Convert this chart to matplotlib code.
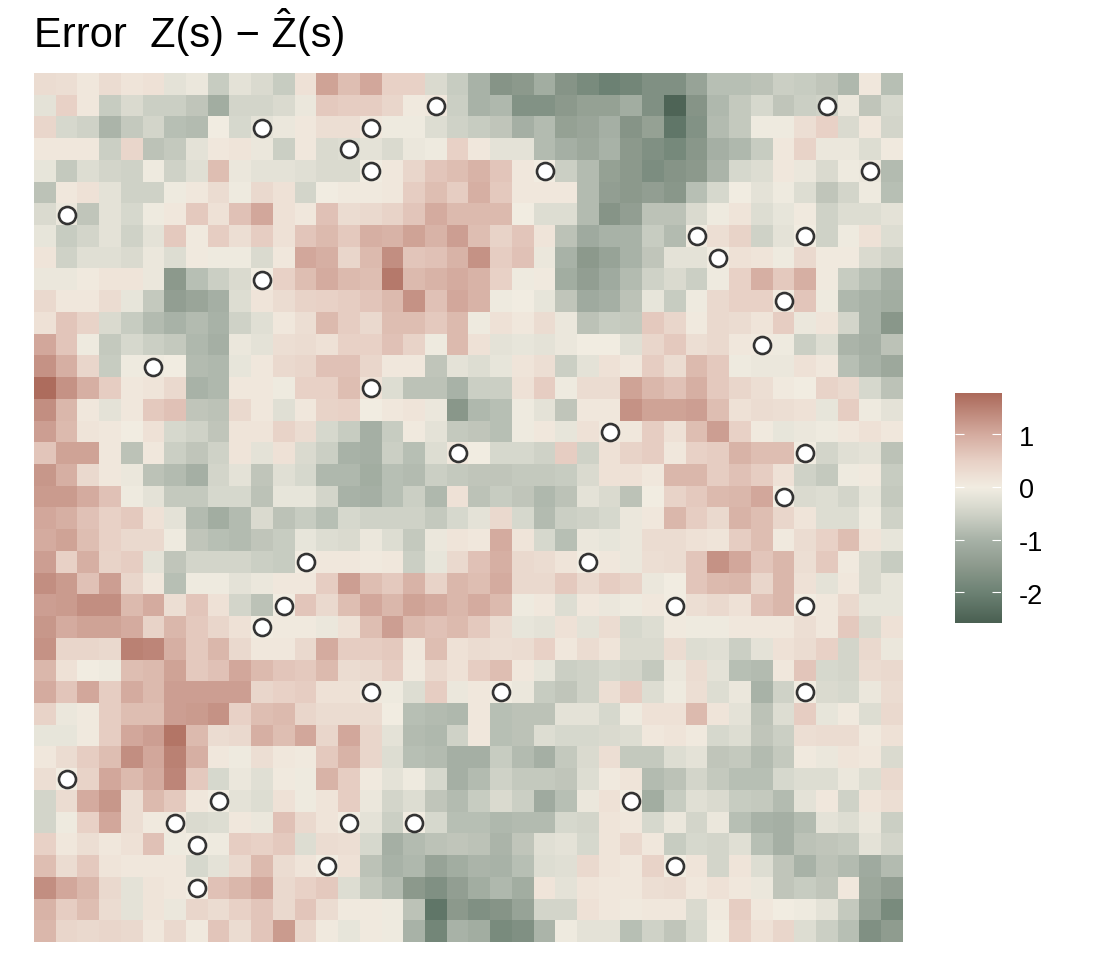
# coding=UTF-8
import matplotlib
matplotlib.use("Agg")
import matplotlib.pyplot as plt
import numpy as np
from matplotlib.colors import LinearSegmentedColormap, Normalize

plt.rcParams['font.family'] = ['Liberation Sans', 'DejaVu Sans']

# error on the 40 x 40 grid, first row is the top of the map
err_values = [
 [.3,.25,.1,.3,.15,.2,-.2,-.1,-.6,-.2,-.35,-.6,.2,1.1,.75,1.05,.5,.5,-.35,-.6, -1.0,-1.6,-1.5,-1.1,-1.6,-1.8,-2.0,-1.9,-1.7,-1.7,-1.3,-.8,-.8,-.75,-.55,-.6,-.7,-.9,.1,-.8],
 [-.2,.5,.1,-.6,-.35,-.55,-.55,-.7,-1.1,-.45,-.45,-.35,-.1,.6,.55,.55,.4,.05,.1,-.55, -1.0,-.9,-1.65,-1.65,-1.5,-1.35,-1.35,-1.1,-1.7,-2.5,-1.6,-.9,-.65,-.4,-.7,-.55,-.5,-.1,-.7,-.4],
 [.4,-.4,-.5,-.95,-.65,-.45,-.8,-.85,0,-.4,-.2,-.1,.1,.25,.25,.1,-.05,-.05,-.3,-.5, -.6,-.7,-1.05,-.85,-1.35,-1.25,-1.05,-1.6,-1.35,-2.2,-1.65,-.85,-.65,-.05,-.05,.25,.5,-.35,.1,-.45],
 [.1,.1,.1,-.55,.4,-.75,-.65,-.2,.1,.15,-.1,-.55,.1,-.35,-.3,-.2,-.35,-.1,-.05,.5, .1,-.2,-.2,-.85,-1.05,-1.2,-1.0,-1.5,-1.7,-1.85,-1.55,-1.05,-.9,-.6,.1,.45,-.1,-.1,-.3,.05],
 [-.15,-.65,-.3,-.45,-.5,-.05,-.5,-.25,.75,-.1,-.2,-.2,-.25,-.35,-.35,0,.1,.4,.65,.75, .9,.65,.1,0,-.55,-.85,-1.35,-1.5,-1.75,-1.6,-1.5,-.95,-.4,-.3,.1,-.1,-.35,-.05,-.1,-.85],
 [-.75,.1,.2,-.2,-.5,-.5,-.05,.1,.3,-.05,.35,.2,-.45,0,.05,.05,.1,.55,.75,.55, .95,.6,.1,.1,.1,-.85,-1.4,-1.5,-1.4,-1.55,-.8,-.4,0,-.2,-.05,-.3,-.7,-.45,-.05,-.8],
 [-.35,-.1,-.7,-.2,-.4,-.05,.1,.6,.2,.7,1.05,.2,.1,.7,.3,.35,.45,.65,1.0,.8, .8,.8,0,-.3,-.3,-.85,-1.6,-1.4,-.75,-.75,-.35,-.05,.15,-.3,-.15,.05,-.5,-.3,-.3,-.2],
 [-.15,-.6,-.45,-.2,-.5,-.2,.6,.05,.55,.25,.55,.2,.65,.8,.6,.95,.9,1.1,.9,1.15, .75,.45,.65,.15,-.75,-1.15,-1.0,-1.0,-.6,-.85,0,.25,.45,-.5,-.2,0,-.5,-.05,.2,-.3],
 [.15,-.5,-.25,-.25,-.35,-.1,-.3,.05,-.05,-.05,-.35,.1,1.05,.95,.4,.8,1.35,.65,.7,.9, 1.3,.55,.7,-.1,-1.0,-1.5,-1.3,-1.0,-.7,-.2,-.2,0,.2,.15,-.05,.35,.05,.05,-.35,-.5],
 [-.1,-.1,.05,.15,.15,-.1,-1.5,-.8,-.55,-.35,0,.5,.75,1.0,.8,.75,1.6,.8,.9,1.0, .9,.5,-.05,.05,-1.1,-1.4,-1.15,-.85,-.5,-.35,-.55,-.05,.5,.95,.6,.95,.05,-.6,-.8,-1.05],
 [.35,.1,.1,.3,-.15,-.65,-1.4,-1.25,-1.05,-.3,.15,.3,.45,.5,.55,.65,.8,1.3,.7,1.05, .9,-.05,0,-.15,-.7,-1.15,-1.05,-.75,-.15,-.6,-.05,.35,.5,.5,.05,.65,-.05,-.9,-1.0,-1.1],
 [.2,.65,.45,-.35,-.6,-.85,-1.0,-.85,-1.0,-.5,-.25,.1,.25,.8,.55,.35,.75,.75,.6,.8, -.05,.2,.1,.3,-.1,-.75,-.6,-.65,.6,.4,.05,.35,.3,.15,.55,-.1,.15,-.45,-1.0,-1.55],
 [1.05,.65,-.05,-.65,-.4,-.55,-.65,-.9,-1.05,-.1,-.2,.25,.3,.2,.5,.5,.7,.45,-.05,.8, .2,-.2,-.15,-.2,-.1,0,0,-.25,.4,.6,.25,.35,.1,.05,-.05,-.55,-.3,-.95,-1.05,-.75],
 [1.3,.95,.4,-.6,-.05,-.05,0,-.85,-.9,-.15,.1,.35,.4,.7,.7,.4,.1,.1,-.7,-.2, -.3,-.15,.15,.25,-.55,-.2,.2,.1,.55,.3,.8,.6,-.05,-.1,-.1,.2,.1,-.8,-1.0,-1.2],
 [1.75,1.3,.95,.55,.1,.15,.35,-1.0,-.9,.1,.1,-.05,.5,.5,.75,.2,-.3,-.75,-.75,-1.0, -.55,-.55,.2,.55,-.05,.3,.3,1.1,.85,.7,.95,.6,.4,.25,.05,0,.45,.35,-.4,-.75],
 [1.35,.85,.1,-.2,.1,.6,.7,-.7,-.75,.35,.1,-.25,.1,.45,.5,0,.1,.15,-.1,-1.55, -.9,-.8,-.05,-.2,-.7,.1,.1,1.3,1.1,1.1,1.15,.75,.2,.3,.25,.2,-.15,.55,-.05,-.2],
 [1.15,.8,.15,.1,0,.2,-.4,-.5,-.7,.15,.15,.45,.3,-.4,-.6,-1.05,-.6,.05,-.2,-.65, -.7,-.8,-.05,.1,-.15,.2,.05,.1,.55,.2,.75,1.15,.5,.05,-.15,-.1,-.05,.1,.2,.1],
 [.65,1.1,1.1,.1,-.75,.1,-.55,-.7,-.5,.15,-.2,.2,-.35,-.55,-1.0,-1.05,-.55,-.8,-.3,.1, 0,-.4,-.4,-.5,.55,-.5,.2,.45,.55,.1,.5,.55,.9,.75,.75,0,-.45,-.25,-.2,-.75],
 [1.25,.95,.35,.1,-.1,-.75,-.85,-1.05,-.45,-.2,-.7,-.25,-.4,-.9,-.9,-1.1,-.8,-.85,-.55,-.65, -.7,-.7,-.65,-.65,-.6,-.35,.2,.2,.1,.85,.85,.55,.7,.55,.2,-.5,-.65,-.05,.05,-.6],
 [1.2,1.2,1.0,.7,-.05,-.2,-.65,-.65,-.4,-.4,-.75,-.15,-.15,-.45,-1.0,-1.05,-.8,-.55,-.9,.2, -.75,-.6,-.7,-.9,-.75,-.2,-.35,-.75,0,.45,.6,.8,.85,1.05,0,-.35,-.3,-.45,-.15,-.65],
 [1.05,.95,.7,.5,.6,.2,-.2,-.85,-1.1,-.85,-.35,-.75,-.6,-.8,-.4,-.5,-.5,-.5,-.65,-.4, -.2,.35,-.4,-.85,-.55,-.5,-.4,-.1,.1,.85,.55,.35,.9,.75,.4,.15,-.3,-.3,-.05,-.5],
 [1.0,1.1,.75,.5,.35,.35,-.05,-.7,-.8,-.85,-.7,-.6,-.15,-.3,-.35,-.1,-.3,-.65,-.1,.15, .1,1.0,.15,-.4,-.8,-.1,-.15,-.1,.3,.3,.2,.15,.55,.75,.05,.3,.5,.75,.15,-.15],
 [1.15,.5,.95,.45,.55,-.2,-.7,-.45,-.45,-.45,-.55,-.6,0,.1,.1,.05,.1,-.55,-.15,.35, .7,.95,.35,.3,.15,0,.1,-.1,.25,.3,.65,1.3,1.05,.65,.85,.25,.6,.05,-.35,-.6],
 [1.35,1.2,.7,1.15,.4,.1,-.8,-.05,-.05,-.2,-.1,.1,.1,.55,1.15,.75,.6,.9,.45,.85, .75,1.0,.35,.35,.6,.35,.55,.45,-.1,0,.65,.8,.85,.4,.85,.2,-.2,.1,-.35,-.15],
 [1.15,1.2,1.35,1.35,.8,1.0,.25,.65,.2,-.45,-.75,0,.65,.35,.75,1.05,.85,1.1,1.0,.85, 1.0,.8,-.05,.1,-.3,.1,-.1,-.05,.1,0,.25,.35,.2,.7,.85,0,.1,.35,-.15,-.15],
 [1.25,1.0,1.1,1.1,1.0,.45,.85,.6,.4,.2,0,.05,.05,-.1,.2,.75,1.15,.8,.7,.8, .6,.3,-.15,-.2,.2,-.2,.3,-.4,-.3,.05,-.05,-.05,.1,.1,.1,.25,.1,.6,-.35,.2],
 [1.3,.4,.4,.35,1.5,1.45,.95,.6,.85,.35,.1,.1,.35,1.0,.55,.55,.6,.1,.75,.2, .3,.25,.3,.5,.1,.3,.15,-.35,-.35,.3,-.3,-.25,-.55,-.2,.2,.3,.5,-.45,.35,-.1],
 [.85,.2,0,-.05,.75,.8,1.1,.6,.7,1.05,.8,.65,.6,.8,.3,.35,.55,.05,.35,.2, .55,.75,.1,-.15,-.55,-.5,-.4,-.45,-.65,-.1,.3,-.2,-.8,-.85,.1,.65,-.4,-.45,.3,.35],
 [1.0,.65,1.05,.55,1.0,.8,1.15,1.15,1.15,1.15,.4,.5,.55,.2,.2,.05,-.05,-.3,.55,-.1, .1,0,-.1,-.6,-.7,-.5,.25,.55,-.3,-.05,.25,-.3,-.1,-1.0,-.5,0,-.35,-.4,-.1,.3],
 [.45,-.1,.05,.55,.75,.75,1.15,1.2,1.3,.5,.75,.8,.4,.3,.3,.3,0,-.8,-.85,-.9, .1,-.8,-.75,-.75,-.2,-.2,-.4,-.05,.2,.2,.8,.15,-.2,-.75,-.3,.55,-.15,.05,-.3,.35],
 [-.15,-.15,.05,.55,1.05,1.15,1.65,.8,.3,.35,.95,.75,1.05,.4,1.05,.4,-.2,-.85,-.9,-.5, .1,-.8,-.75,-.3,-.4,-.4,-.35,-.3,.1,.15,.05,-.4,-.3,-.7,-.55,.25,.3,.3,.05,.2],
 [.1,.3,.55,.75,1.35,1.05,1.5,.95,.1,-.05,.25,.1,.05,.6,.9,.4,-.3,-.8,-.85,-1.05, -1.05,-.6,-.85,-1.05,-.65,-.35,.25,-.65,-.65,-.3,-.2,-.7,-.65,-.85,-.65,.05,-.1,.15,.1,-.35],
 [.25,0,.45,1.05,.8,1.0,1.45,.6,-.4,-.1,-.25,.05,-.05,.9,.55,.05,-.2,-.05,-.4,-1.05, -.85,-.5,-.65,-.65,-.7,-.3,.05,.15,-.85,-.75,-.45,-.65,-.8,-.8,-.4,-.3,-.3,-.1,-.3,.35],
 [-.45,.3,1.0,1.25,.25,.8,.6,.1,0,-.2,-.3,.2,-.05,.15,.55,-.1,-.45,-.3,-.7,-.85, -.6,-.35,-.55,-1.15,-.8,-.1,.2,0,-1.1,-.6,-.25,-.35,-.6,-.65,-.85,-.2,.1,-.5,.15,.25],
 [-.45,-.05,.5,1.05,.25,.05,.05,-.35,-.3,.1,-.1,.7,.35,.15,0,-.2,-.55,0,-.4,-.8, -.8,-.9,-.85,-.85,-.4,-.45,.15,.1,-.4,-.1,-.45,-.1,-.8,-1.0,-1.05,-.85,-.2,-.3,-.1,-.55],
 [.5,.1,.25,.1,.2,.7,-.05,0,-.05,.55,.5,.6,-.3,.3,.25,-.4,-1.05,-.85,-.75,-.7, -.75,-.95,-.7,-.25,-.2,-.4,.15,.35,.1,-.6,-.4,-.45,-.25,-.8,-1.05,-.75,-.7,-.65,-.2,-.45],
 [.75,.3,.6,.15,.1,.1,.1,-.4,-.2,.35,.8,.3,.15,0,.2,-.75,-1.0,-.9,-1.3,-1.1, -.95,-1.0,-.8,-.3,-.25,.35,.15,.1,.45,0,.15,-.45,.15,-.3,-.7,-1.0,-.75,-.85,-1.15,-.85],
 [1.35,1.05,.85,.35,-.2,.15,.1,0,.7,.85,1.05,.35,.5,.6,-.3,-.65,-.85,-1.5,-1.7,-1.4, -1.1,-.9,-1.1,.15,-.2,.15,.1,.1,.25,.3,.1,.2,.1,-.1,-.7,-.6,-.7,.1,-1.2,-1.4],
 [.9,.55,.75,.3,-.2,.15,-.1,.4,.3,.5,.65,.35,.65,.3,.05,.05,-.05,-.75,-2.2,-1.5, -1.7,-1.6,-1.3,-.45,-.45,.2,.1,.05,.1,.1,-.35,.05,.55,.1,0,-.05,-.2,-.65,-1.3,-1.8],
 [.85,.4,.35,.4,.35,.1,.35,.05,.65,.3,.65,1.2,.4,.05,-.15,.05,-.05,-1.0,-1.9,-1.0, -1.1,-1.8,-1.7,-.95,-.05,-.2,-.2,-.8,-.5,-.7,-.4,0,.5,.2,.4,-.3,-.55,-.8,-1.7,-1.45],
]

# observation locations as grid column / row
obs_col = [18,36,10,15,14,15,23,38,1,30,35,31,10,34,33,5,15,26,19,35,34,12,25,11,29,35,10,15,21,35,1,8,27,6,14,17,7,13,29,7]
obs_row = [1,1,2,2,3,4,4,4,6,7,7,8,9,10,12,13,14,16,17,17,19,22,22,24,24,24,25,28,28,28,32,33,33,34,34,34,35,36,36,37]

# fill scale
scale_min = -2.58
scale_max = 1.79
scale_stops = [-2.58, -2.0, -1.5, -1.0, -0.5, 0.0, 0.5, 1.0, 1.79]
scale_colors = ['#4a6052', '#6d8274', '#8d9a8d', '#a8b2a7', '#d0d3c8', '#f2ede2', '#e8d1c6', '#d5aca0', '#ac6a5b']
cbar_ticks = [1, 0, -1, -2]

W, H = 1094.0, 960.0

def px_axes(fig, x0, y0, x1, y1):
    # axes from pixel box, y measured from the top
    return fig.add_axes([x0/W, 1 - y1/H, (x1-x0)/W, (y1-y0)/H])

pos = [(v - scale_min)/(scale_max - scale_min) for v in scale_stops]
cmap = LinearSegmentedColormap.from_list('err', list(zip(pos, scale_colors)), N=512)
norm = Normalize(scale_min, scale_max)

fig = plt.figure(figsize=(W/100, H/100), dpi=100)
ax = px_axes(fig, 34, 73.3, 903, 942.3)
ax.imshow(np.array(err_values), cmap=cmap, norm=norm, interpolation='nearest', aspect='auto')
ax.scatter(obs_col, obs_row, s=150, facecolor='white', edgecolor='#333333', linewidth=1.9, zorder=3)
ax.set_axis_off()

title_size = 30
fig.text(34/W, 1 - 47/H, 'Error  Z(s) \u2212 Z(s)', fontsize=title_size, color='black', ha='left', va='baseline')

# hat over the second Z, placed from the width of the text in front of it
renderer = fig.canvas.get_renderer()
probe = fig.text(0, 0, 'Error  Z(s) \u2212 ', fontsize=title_size)
w_front = probe.get_window_extent(renderer).width
probe.remove()
probe = fig.text(0, 0, 'Z', fontsize=title_size)
w_z = probe.get_window_extent(renderer).width
probe.remove()
fig.text((34 + w_front + w_z/2)/W, 1 - 39/H, '\u02c6', fontsize=title_size, color='black', ha='center', va='baseline')

cax = px_axes(fig, 955, 392.7, 1001.3, 622.7)
grad = np.linspace(scale_max, scale_min, 256).reshape(-1, 1)
cax.imshow(grad, cmap=cmap, norm=norm, aspect='auto', extent=[0, 1, scale_min, scale_max])
cax.set_xlim(0, 1)
cax.set_ylim(scale_min, scale_max)
for t in cbar_ticks:
    cax.plot([0, 0.2], [t, t], color='white', lw=0.8, solid_capstyle='butt')
    cax.plot([0.8, 1], [t, t], color='white', lw=0.8, solid_capstyle='butt')
    y_px = 392.7 + (scale_max - t)/(scale_max - scale_min)*230.0
    fig.text(1019/W, 1 - (y_px + 1.5)/H, str(t), fontsize=19.5, ha='left', va='center_baseline', color='black')
cax.set_axis_off()

fig.savefig('out.png', dpi=100)
